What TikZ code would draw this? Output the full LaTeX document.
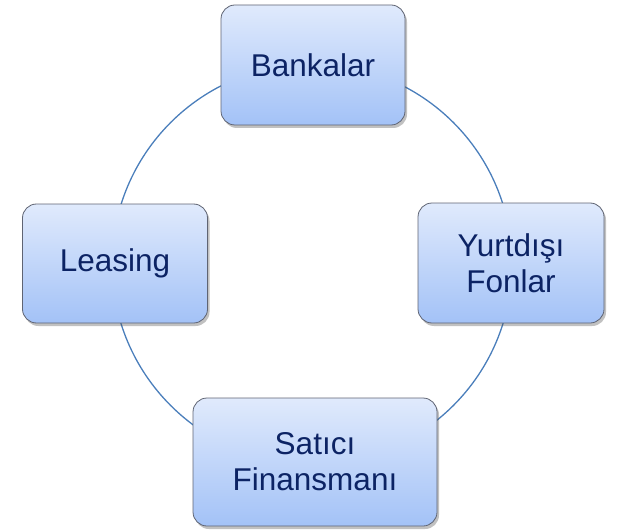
\documentclass[tikz,border=0pt]{standalone}
\usepackage{fontspec}
\setmainfont{Liberation Sans}
\usetikzlibrary{shadows}
\definecolor{boxtop}{RGB}{224,234,252}
\definecolor{boxbot}{RGB}{163,194,247}
\definecolor{boxline}{RGB}{95,100,115}
\definecolor{txt}{RGB}{12,35,100}
\definecolor{ring}{RGB}{74,126,187}
\tikzset{
  boxnode/.style={draw=boxline, line width=0.8pt, rounded corners=14pt,
    top color=boxtop, bottom color=boxbot, text=txt,
    font=\fontsize{31.5}{36}\selectfont, align=center, inner sep=0pt,
    drop shadow={shadow xshift=2pt, shadow yshift=-3pt, opacity=0.35, fill=black!70}},
  ringline/.style={draw=ring, line width=1.3pt}
}
\begin{document}
\begin{tikzpicture}[x=1pt, y=-1pt]
\useasboundingbox (0,0) rectangle (617,529);
\coordinate (c) at (312,264);
\draw[ringline] (c) circle[radius=200pt];
\node[boxnode, minimum width=184pt, minimum height=120pt] (bank) at (313,65) {Bankalar};
\node[boxnode, minimum width=185pt, minimum height=119pt] (leas) at (115,263.5) {Leasing};
\node[boxnode, minimum width=186pt, minimum height=120pt] (yurt) at (511,263) {Yurtdışı\\Fonlar};
\node[boxnode, minimum width=244pt, minimum height=128pt] (sat) at (315,462) {Satıcı\\Finansmanı};
\end{tikzpicture}
\end{document}
